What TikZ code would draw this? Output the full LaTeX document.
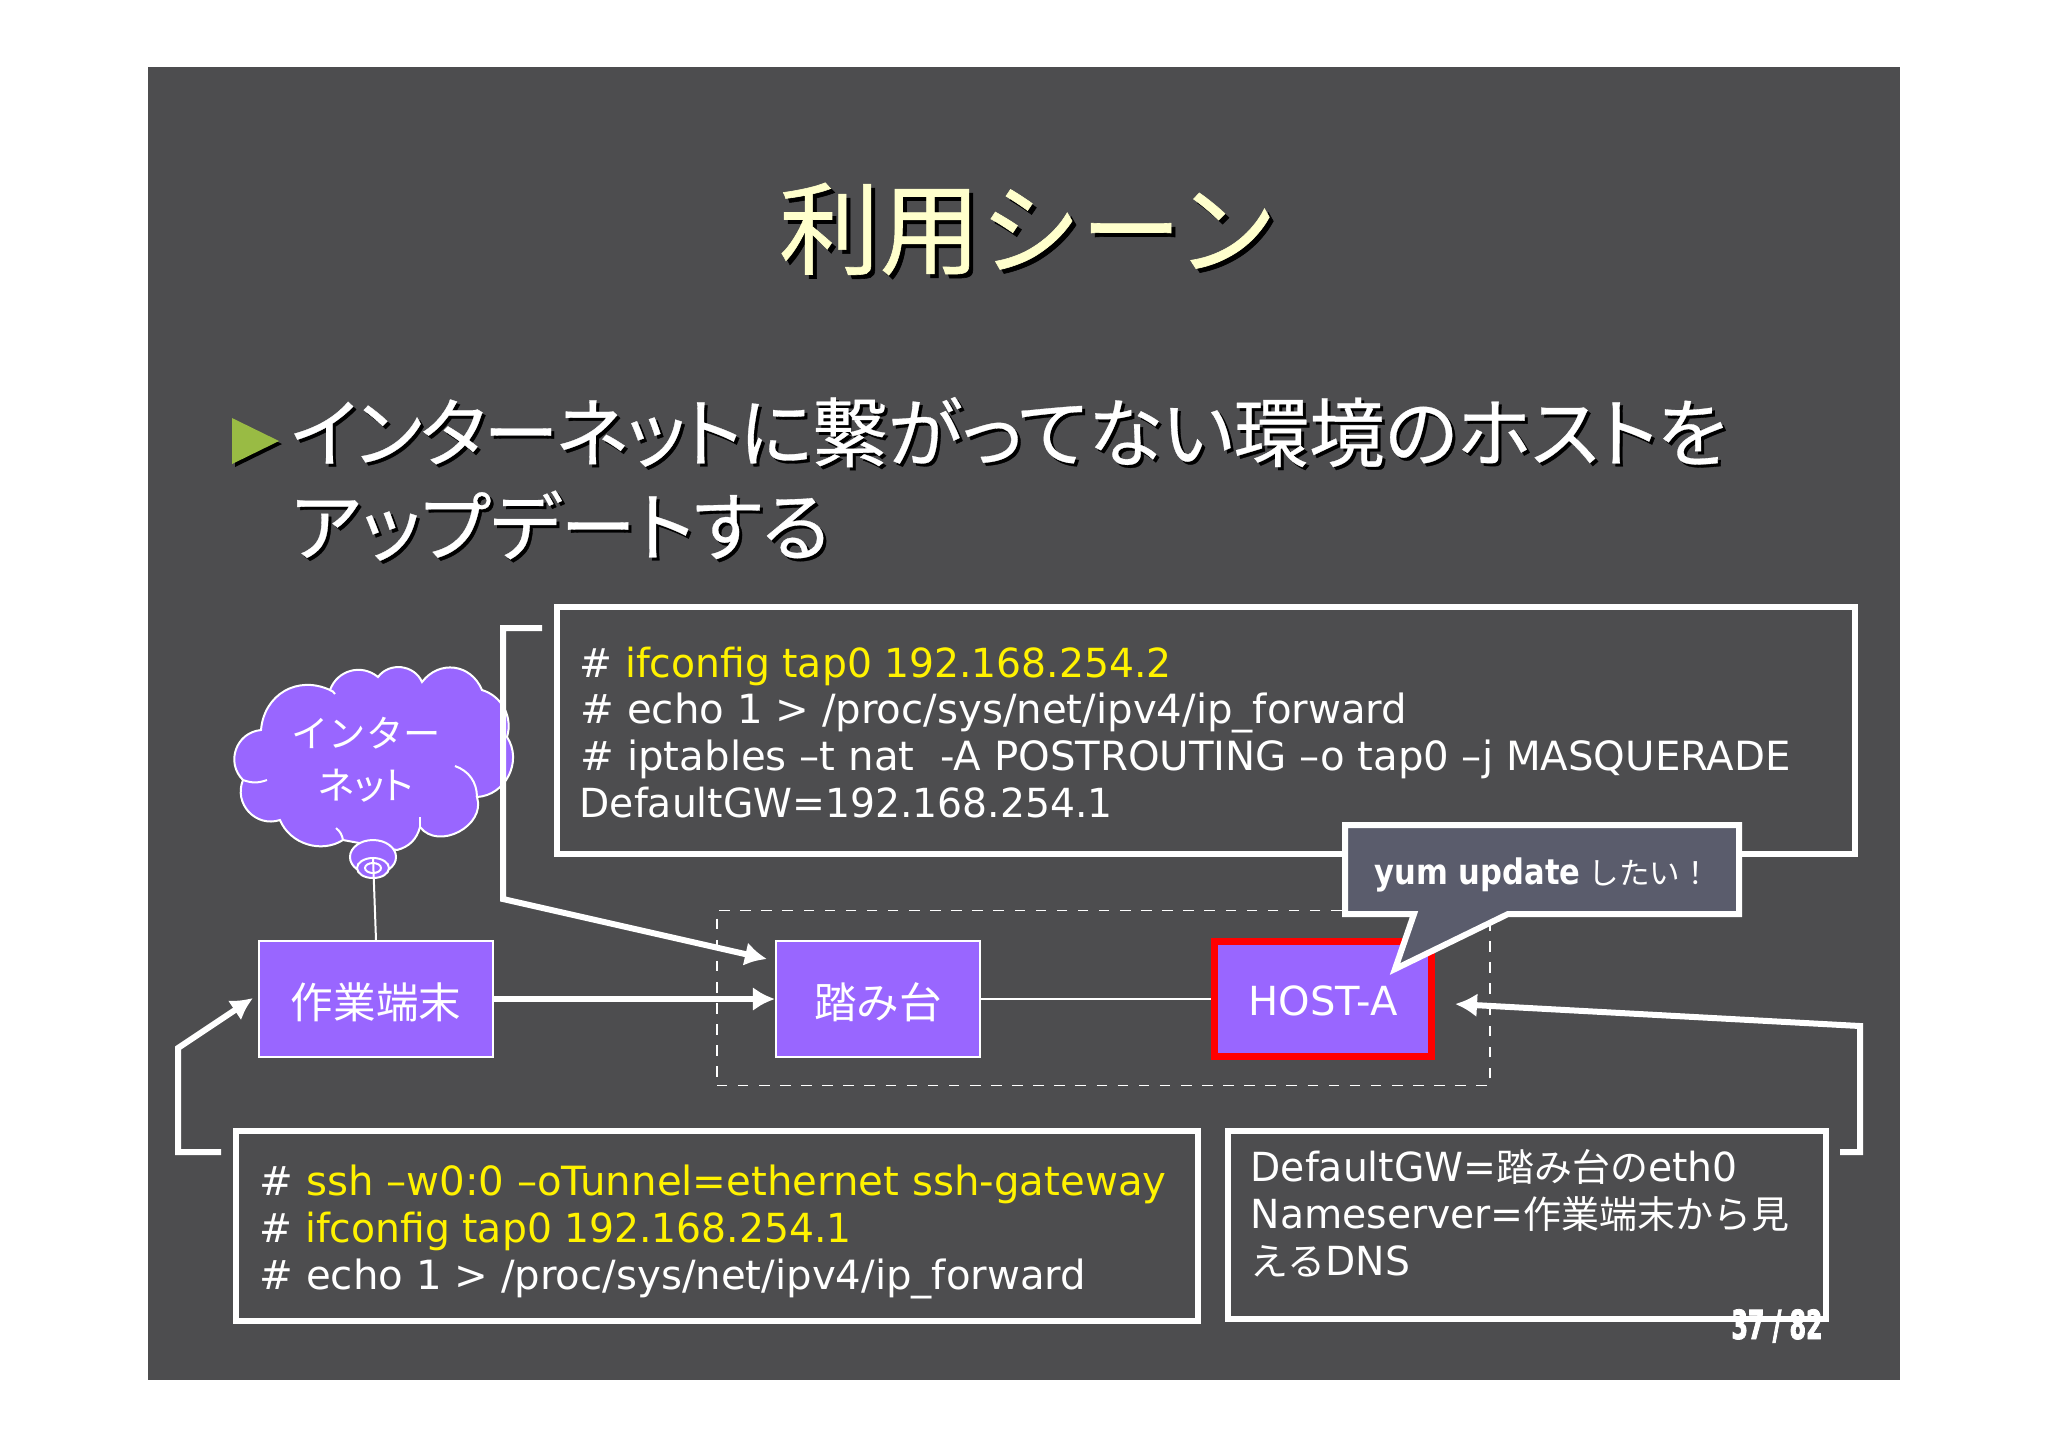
\documentclass[tikz,border=0pt]{standalone}
\usepackage{fontspec}
\usepackage{xcolor}
\usetikzlibrary{shapes.geometric,arrows.meta,calc}
\setmainfont{DejaVu Sans}
\newfontfamily\jpfont{Noto Sans CJK JP}
\newfontfamily\propfont[RawFeature={+palt},FakeBold=0.4]{Noto Sans CJK JP}
\newfontfamily\tightfont[RawFeature={+palt},FakeBold=0.4,LetterSpace=-3]{Noto Sans CJK JP}
\newfontfamily\cloudfont[RawFeature={+palt}]{Noto Sans CJK JP}
\newfontfamily\headfont[FakeBold=0.6]{Noto Sans CJK JP}
\newfontfamily\digitfont[FakeStretch=0.98]{DejaVu Sans}
\newfontfamily\numfont[FakeStretch=0.59,FakeBold=2]{DejaVu Sans Bold}
\newfontfamily\tagfont[FakeStretch=0.87]{DejaVu Sans Bold}
\newcommand{\jp}[1]{{\jpfont\fontsize{10.8}{13}\selectfont #1}}
\newcommand{\boxlabel}[2][4.7pt]{\raisebox{-#1}[0pt][0pt]{#2}}
\definecolor{slidegray}{HTML}{4D4D4F}
\definecolor{hostpurple}{HTML}{9966FF}
\definecolor{titlecream}{HTML}{FFFFCC}
\definecolor{bulletgreen}{HTML}{99BB44}
\definecolor{tagslate}{HTML}{5A5C6C}
\tikzset{
  boxline/.style={draw=white,line width=0.06cm,fill=slidegray,inner sep=0pt},
  hostbox/.style={draw=white,line width=0.02cm,fill=hostpurple,text=white,inner sep=0pt,
    font=\fontsize{11.4}{13}\selectfont},
  codeline/.style={anchor=base west,inner sep=0pt,text=white,font=\fontsize{11.45}{13}\selectfont},
  digitline/.style={anchor=base west,inner sep=0pt,text=white,font=\digitfont\fontsize{11.4}{13}\selectfont},
  titleline/.style={anchor=center,inner sep=0pt,font=\headfont\fontsize{28.6}{31}\selectfont},
  bulletline/.style={anchor=base west,inner sep=0pt,font=\propfont\fontsize{21.5}{24}\selectfont},
  fatarrow/.style={draw=white,line width=0.06cm,-{Latex[length=0.22cm,width=0.24cm]}},
  cloudtick/.style={draw=white,line width=0.02cm},
}
\begin{document}
\begin{tikzpicture}[x=0.01cm,y=-0.01cm]
\useasboundingbox (0,0) rectangle (2048,1447);
\fill[white] (0,0) rectangle (2048,1447);
\fill[slidegray] (148,67) rectangle (1900,1380);
% Title
\node[titleline,text=black] (titleshade) at (1032,233) {利用シーン};
\node[titleline,text=titlecream] (title) at (1028,229) {利用シーン};
% Bullet
\fill[black] (235,421) -- (282,444) -- (235,467) -- cycle;
\fill[bulletgreen] (232,418) -- (279,441) -- (232,464) -- cycle;
\node[bulletline,text=black] (lineoneshade) at (293,464) {{\tightfont インターネットに}繋がってない環境のホストを};
\node[bulletline,text=white] (lineone) at (290,461) {{\tightfont インターネットに}繋がってない環境のホストを};
\node[bulletline,text=black] (linetwoshade) at (293,558) {アップデートする};
\node[bulletline,text=white] (linetwo) at (290,555) {アップデートする};
% Cloud
\coordinate (ca) at (261,730); \coordinate (cb) at (330,690); \coordinate (cc) at (378,677);
\coordinate (cd) at (422,682); \coordinate (ce) at (482,690); \coordinate (cf) at (507,737);
\coordinate (cg) at (477,797); \coordinate (ch) at (420,827); \coordinate (ci) at (397,850);
\coordinate (cj) at (343,840); \coordinate (ck) at (280,820); \coordinate (cl) at (243,780);
\draw[fill=hostpurple,draw=white,line width=0.02cm]
  (ca) to[bend left=55,looseness=1.15] (cb) to[bend left=55,looseness=1.1] (cc)
  to[bend left=60,looseness=1.1] (cd) to[bend left=60,looseness=1.2] (ce)
  to[bend left=45] (cf) to[bend left=60,looseness=1.1] (cg)
  to[bend left=80,looseness=1.2] (ch) to[bend left=30] (ci) -- (cj)
  to[bend left=50] (ck) to[bend left=65,looseness=1.2] (cl)
  to[bend left=65,looseness=1.2] cycle;
\draw[cloudtick] (cl) to[bend right=20] (267,780);
\draw[cloudtick] (cb) to[bend left=20] (335,694);
\draw[cloudtick] (455,766) to[bend left=35] (cg);
\draw[cloudtick] (cj) to[bend right=20] (336,828);
\draw[cloudtick] (ch) -- (420,817);
\node[ellipse,fill=hostpurple,draw=white,line width=0.02cm,minimum width=0.46cm,minimum height=0.34cm,inner sep=0pt] (knob) at (373,857) {};
\node[ellipse,fill=hostpurple,draw=white,line width=0.02cm,minimum width=0.32cm,minimum height=0.2cm,inner sep=0pt] (knobmid) at (373,868) {};
\node[ellipse,draw=white,line width=0.02cm,minimum width=0.16cm,minimum height=0.1cm,inner sep=0pt] (knobeye) at (373,868) {};
\node[text=white,inner sep=0pt,font=\jpfont\fontsize{10.6}{12}\selectfont] (cloudone) at (366,733) {インター};
\node[text=white,inner sep=0pt,font=\cloudfont\fontsize{10.8}{12}\selectfont] (cloudtwo) at (366,786) {ネット};
% Dashed network
\node[draw=white,dashed,line width=0.015cm,minimum width=7.73cm,minimum height=1.75cm,inner sep=0pt] (netbox) at (1103.5,998) {};
% Hosts
\node[hostbox,minimum width=2.34cm,minimum height=1.16cm] (work) at (376,999) {\boxlabel[5.6pt]{\jpfont\fontsize{12.1}{13}\selectfont 作業端末}};
\node[hostbox,minimum width=2.04cm,minimum height=1.16cm] (bastion) at (878,999) {\boxlabel[5.6pt]{\jpfont\fontsize{12.1}{13}\selectfont 踏み台}};
\node[hostbox,draw=red,line width=0.07cm,minimum width=2.16cm,minimum height=1.14cm] (hosta) at (1323,999) {\boxlabel{HOST-A}};
\draw[fatarrow] (work) -- (bastion);
\draw[draw=white,line width=0.015cm] (bastion) -- (hosta);
\draw[draw=white,line width=0.02cm] (knob.center) -- (work.north);
% Top command box
\node[boxline,minimum width=12.97cm,minimum height=2.47cm] (topbox) at (1206,730.5) {};
\node[digitline] (topone) at (579,677) {\# \textcolor{yellow}{ifconfig tap0 192.168.254.2}};
\node[codeline] (toptwo) at (580,723) {\# echo 1 > /proc/sys/net/ipv4/ip\_forward};
\node[codeline] (topthree) at (580,770) {\# iptables –t nat \ -A POSTROUTING –o tap0 –j MASQUERADE};
\node[digitline] (topfour) at (579,817) {DefaultGW=192.168.254.1};
% Lower boxes
\node[boxline,minimum width=9.62cm,minimum height=1.9cm] (leftbox) at (717,1226) {};
\node[codeline] (leftone) at (259,1195) {\# \textcolor{yellow}{ssh –w0:0 –oTunnel=ethernet ssh-gateway}};
\node[digitline] (lefttwo) at (259,1242) {\# \textcolor{yellow}{ifconfig tap0 192.168.254.1}};
\node[codeline] (leftthree) at (259,1289) {\# echo 1 > /proc/sys/net/ipv4/ip\_forward};
\node[boxline,minimum width=5.98cm,minimum height=1.88cm] (rightbox) at (1527,1225) {};
\node[digitline] (rightone) at (1250,1181) {DefaultGW=\jp{踏み台の}eth0};
\node[digitline] (righttwo) at (1250,1228) {Nameserver=\jp{作業端末から見}};
\node[digitline] (rightthree) at (1250,1275) {\jp{える}DNS};
% Page number
\node[anchor=base,inner sep=0pt,text=white,font=\numfont\fontsize{11.4}{13}\selectfont] (pagenum) at (1777,1339) {37 / 82};
% Callout
\draw[draw=white,line width=0.06cm,fill=tagslate] (1345,825) -- (1739,825) -- (1739,914) -- (1508,914)
  -- (1395,969) -- (1414,914) -- (1345,914) -- cycle;
\node[anchor=base west,inner sep=0pt,text=white,font=\tagfont\fontsize{10}{11}\selectfont] (tagtext) at (1374,884) {yum update\hspace{0.08cm}{\jpfont\fontsize{8.7}{11}\selectfont したい！}};
% Bracket arrows
\coordinate (topstart) at (542,628); \coordinate (topcorner) at (503,628); \coordinate (topbend) at (503,899);
\coordinate (toptip) at (767,959);
\draw[fatarrow] (topstart) -- (topcorner) -- (topbend) -- (toptip);
\coordinate (leftstart) at (221,1152); \coordinate (leftcorner) at (178,1152); \coordinate (leftbend) at (178,1048);
\coordinate (lefttip) at (253,998);
\draw[fatarrow] (leftstart) -- (leftcorner) -- (leftbend) -- (lefttip);
\coordinate (rightstart) at (1840,1152); \coordinate (rightcorner) at (1860,1152); \coordinate (rightbend) at (1860,1026);
\coordinate (righttip) at (1455,1004);
\draw[fatarrow] (rightstart) -- (rightcorner) -- (rightbend) -- (righttip);
\end{tikzpicture}
\end{document}
